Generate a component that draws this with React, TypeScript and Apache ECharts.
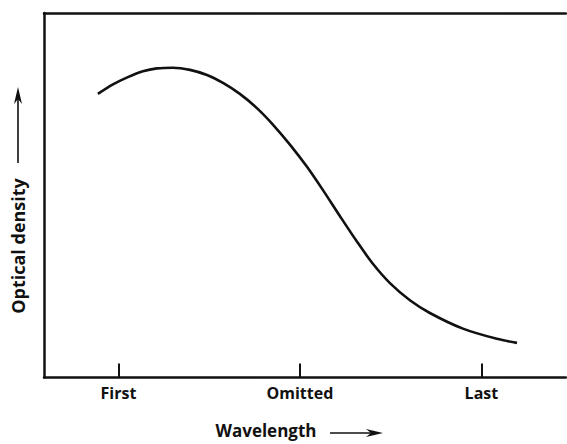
import React, { useEffect, useRef } from "react";
import * as echarts from "echarts";

const tickLabels = ["First", "Omitted", "Last"];
const tickPositions = [1, 2, 3];
const wavelength = [0.887, 0.97, 1.052, 1.135, 1.212, 1.3, 1.394, 1.488, 1.576, 1.669, 1.763, 1.851, 1.945, 2.039, 2.127, 2.22, 2.314, 2.402, 2.496, 2.606, 2.716, 2.898, 3.085, 3.196];
const density = [7.78, 8.04, 8.24, 8.4, 8.48, 8.5, 8.44, 8.3, 8.08, 7.78, 7.39, 6.94, 6.39, 5.78, 5.14, 4.43, 3.73, 3.12, 2.59, 2.12, 1.77, 1.34, 1.06, 0.95];
const xTitle = "Wavelength";
const yTitle = "Optical density";

const INK = "#111";
const FONT = "'Open Sans', Lato, sans-serif";

export default function App() {
  const ref = useRef<HTMLDivElement>(null);
  useEffect(() => {
    if (!ref.current) return;
    const chart = echarts.init(ref.current, undefined, { renderer: "svg" });
    const xMin = 0.59;
    const xMax = 3.466;
    chart.setOption({
      animation: false,
      backgroundColor: "#fff",
      grid: { left: 44, right: 1, top: 13, bottom: 66.5 },
      xAxis: [
        {
          type: "value",
          min: xMin,
          max: xMax,
          position: "bottom",
          axisLine: { show: true, onZero: false, lineStyle: { color: INK, width: 2.5 } },
          axisTick: {
            show: true,
            inside: true,
            length: 14,
            customValues: tickPositions,
            lineStyle: { color: INK, width: 2 },
          },
          axisLabel: {
            show: true,
            customValues: tickPositions,
            margin: 7,
            color: INK,
            fontFamily: FONT,
            fontWeight: "bold",
            fontSize: 16,
            formatter: (v: number) => {
              const i = tickPositions.indexOf(v);
              return i >= 0 ? tickLabels[i] : "";
            },
          },
          splitLine: { show: false },
        },
        {
          type: "value",
          min: xMin,
          max: xMax,
          position: "top",
          axisLine: { show: true, onZero: false, lineStyle: { color: INK, width: 2.5 } },
          axisTick: { show: false },
          axisLabel: { show: false },
          splitLine: { show: false },
        },
      ],
      yAxis: {
        type: "value",
        min: 0,
        max: 10,
        axisLine: { show: true, onZero: false, lineStyle: { color: INK, width: 2.5 } },
        axisTick: { show: false },
        axisLabel: { show: false },
        splitLine: { show: false },
      },
      series: [
        {
          type: "line",
          data: wavelength.map((x, i) => [x, density[i]]),
          smooth: 0.3,
          showSymbol: false,
          symbol: "none",
          lineStyle: { color: INK, width: 2.6 },
        },
      ],
      graphic: [
        {
          type: "text",
          x: 266,
          y: 430,
          style: {
            text: xTitle,
            fill: INK,
            font: `bold 17px ${FONT}`,
            textAlign: "center",
            textVerticalAlign: "middle",
          },
        },
        {
          type: "line",
          shape: { x1: 330, y1: 433, x2: 372, y2: 433 },
          style: { stroke: INK, lineWidth: 1.6 },
        },
        {
          type: "polygon",
          shape: { points: [[383, 433], [366, 429], [371, 433], [366, 437]] },
          style: { fill: INK },
        },
        {
          type: "text",
          x: 18,
          y: 246,
          rotation: Math.PI / 2,
          style: {
            text: yTitle,
            fill: INK,
            font: `bold 18px ${FONT}`,
            textAlign: "center",
            textVerticalAlign: "middle",
          },
        },
        {
          type: "line",
          shape: { x1: 18, y1: 163, x2: 18, y2: 98 },
          style: { stroke: INK, lineWidth: 1.6 },
        },
        {
          type: "polygon",
          shape: { points: [[18, 87], [14, 104], [18, 99], [22, 104]] },
          style: { fill: INK },
        },
      ],
    });
    return () => chart.dispose();
  }, []);
  return (
    <div
      ref={ref}
      style={{ position: "absolute", left: 0, top: 0, width: 567, height: 444, background: "#fff" }}
    />
  );
}
